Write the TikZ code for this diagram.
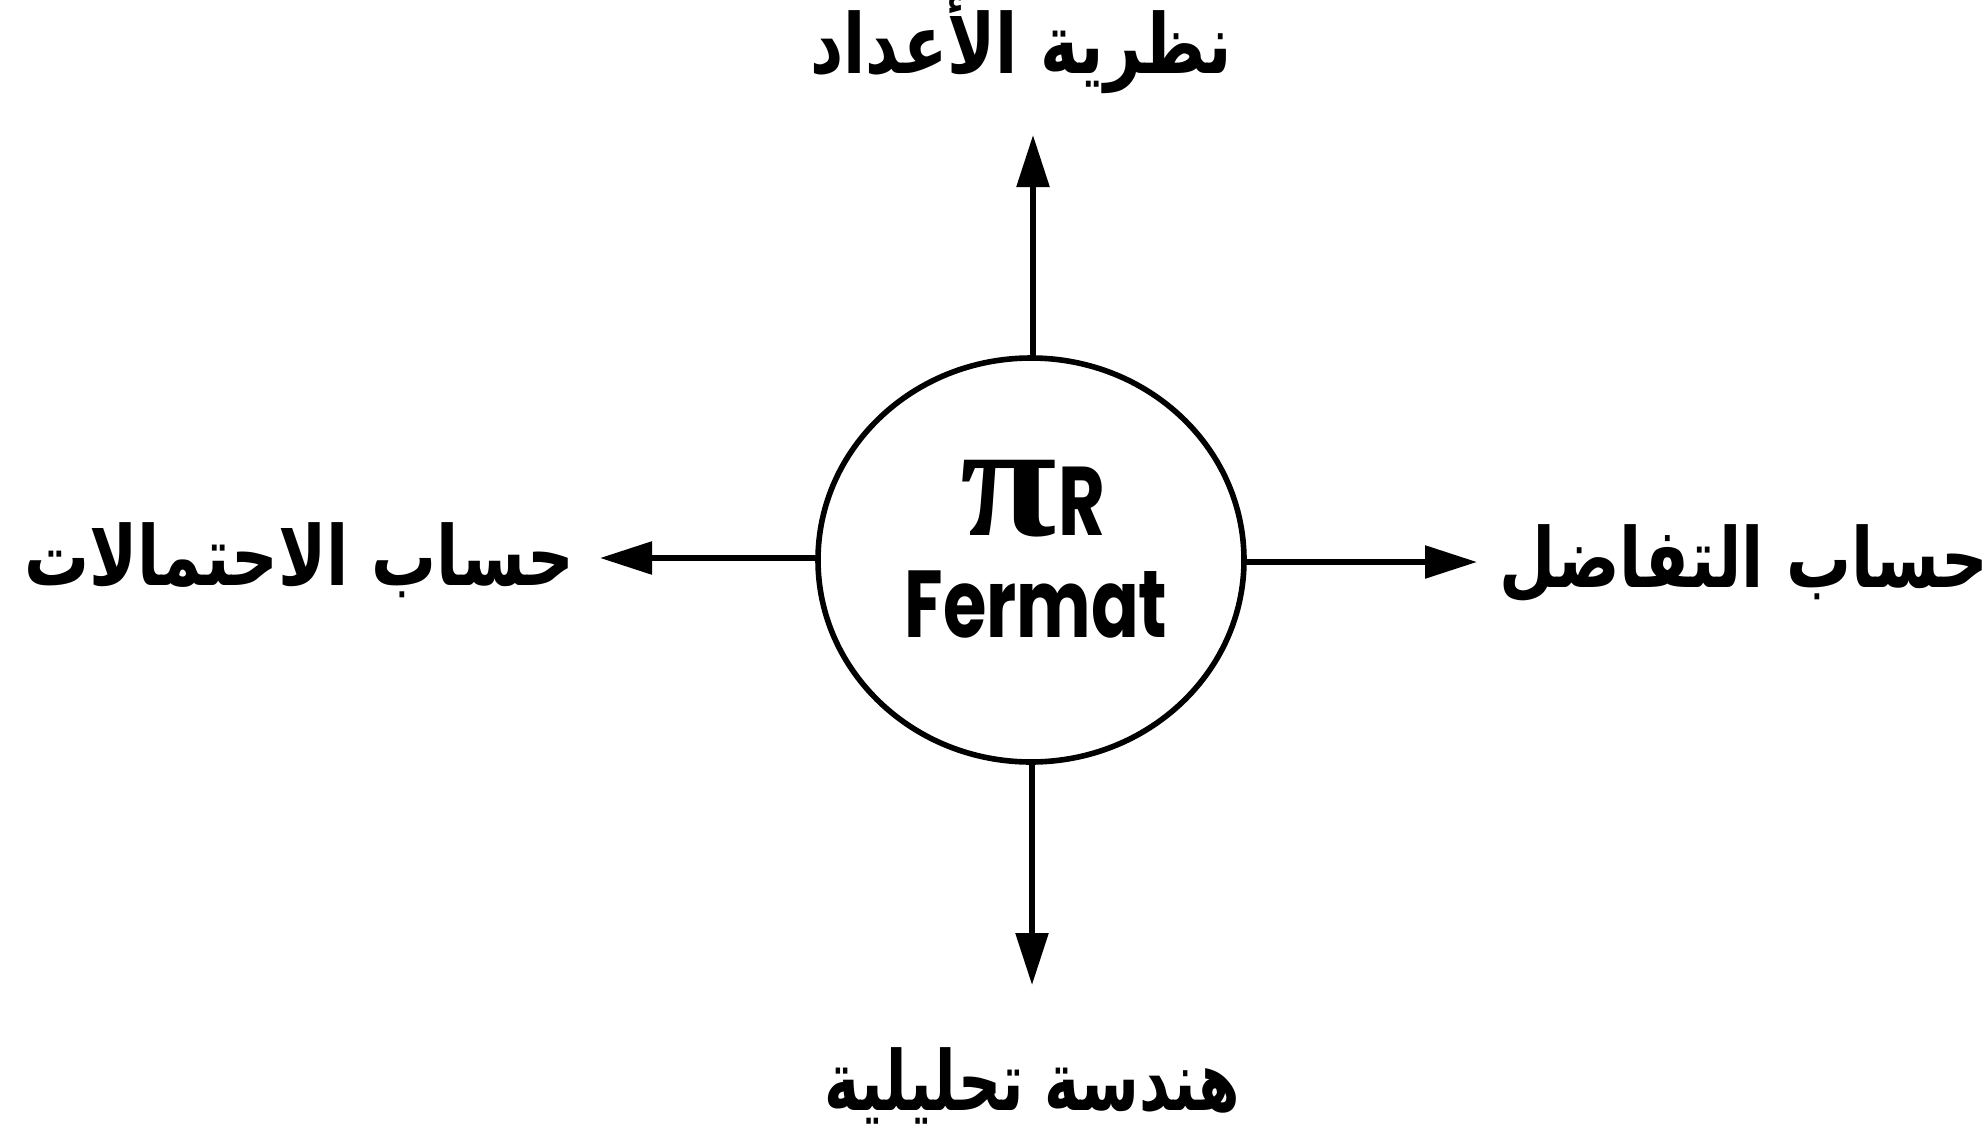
\documentclass[tikz,border=0pt]{standalone}
\usepackage{fontspec}
\usepackage{graphicx}
\usetikzlibrary{arrows.meta,shapes.geometric}
\TeXXeTstate=1
\newfontfamily\arabicfont[Script=Arabic]{DejaVu Sans Bold}
\newfontfamily\fermatfont{Poppins}
\newfontfamily\pifont{Liberation Serif}
\tikzset{
  lbl/.style={anchor=base, inner sep=0pt, outer sep=0pt, font=\arabicfont\fontsize{36}{40}\selectfont},
  conn/.style={line width=2.8pt, -{Triangle[length=26pt,width=16pt]}},
  hub/.style={ellipse, draw, line width=2.8pt, minimum width=213pt, minimum height=202pt, inner sep=0pt, outer sep=0pt}
}
\begin{document}
\begin{tikzpicture}[x=0.5pt,y=-0.5pt]
\useasboundingbox (0,0) rectangle (1988,1141);
\node[hub] (c) at (1031,560) {};
\node[anchor=base, inner sep=0pt, font=\fontsize{40}{44}\selectfont] (pr) at (1033,535) {\scalebox{2.2}[2.05]{\pifont\bfseries π}\kern1pt{\fermatfont\bfseries\scalebox{0.9}[1.22]{R}}};
\node[anchor=base, inner sep=0pt, font=\fermatfont\bfseries\fontsize{44}{48}\selectfont] (fm) at (1036,637) {\scalebox{0.8}[1.08]{Fermat}};
\node[lbl] (top) at (1021,73) {\scalebox{0.9}[1.15]{\beginR نظرية الأعداد\endR}};
\node[lbl] (left) at (299,585) {\scalebox{0.9}[1.15]{\beginR حساب الاحتمالات\endR}};
\node[lbl] (right) at (1744,587) {\scalebox{0.9}[1.15]{\beginR حساب التفاضل\endR}};
\node[lbl] (bot) at (1032,1110) {\scalebox{0.83}[1.15]{\beginR هندسة تحليلية\endR}};
\coordinate (tu) at (1033,135);
\coordinate (td) at (1032,985);
\coordinate (tl) at (600,558);
\coordinate (tr) at (1477,562);
\draw[conn] (c.north -| tu) -- (tu);
\draw[conn] (c.south -| td) -- (td);
\draw[conn] (c.west |- tl) -- (tl);
\draw[conn] (c.east |- tr) -- (tr);
\end{tikzpicture}
\end{document}
